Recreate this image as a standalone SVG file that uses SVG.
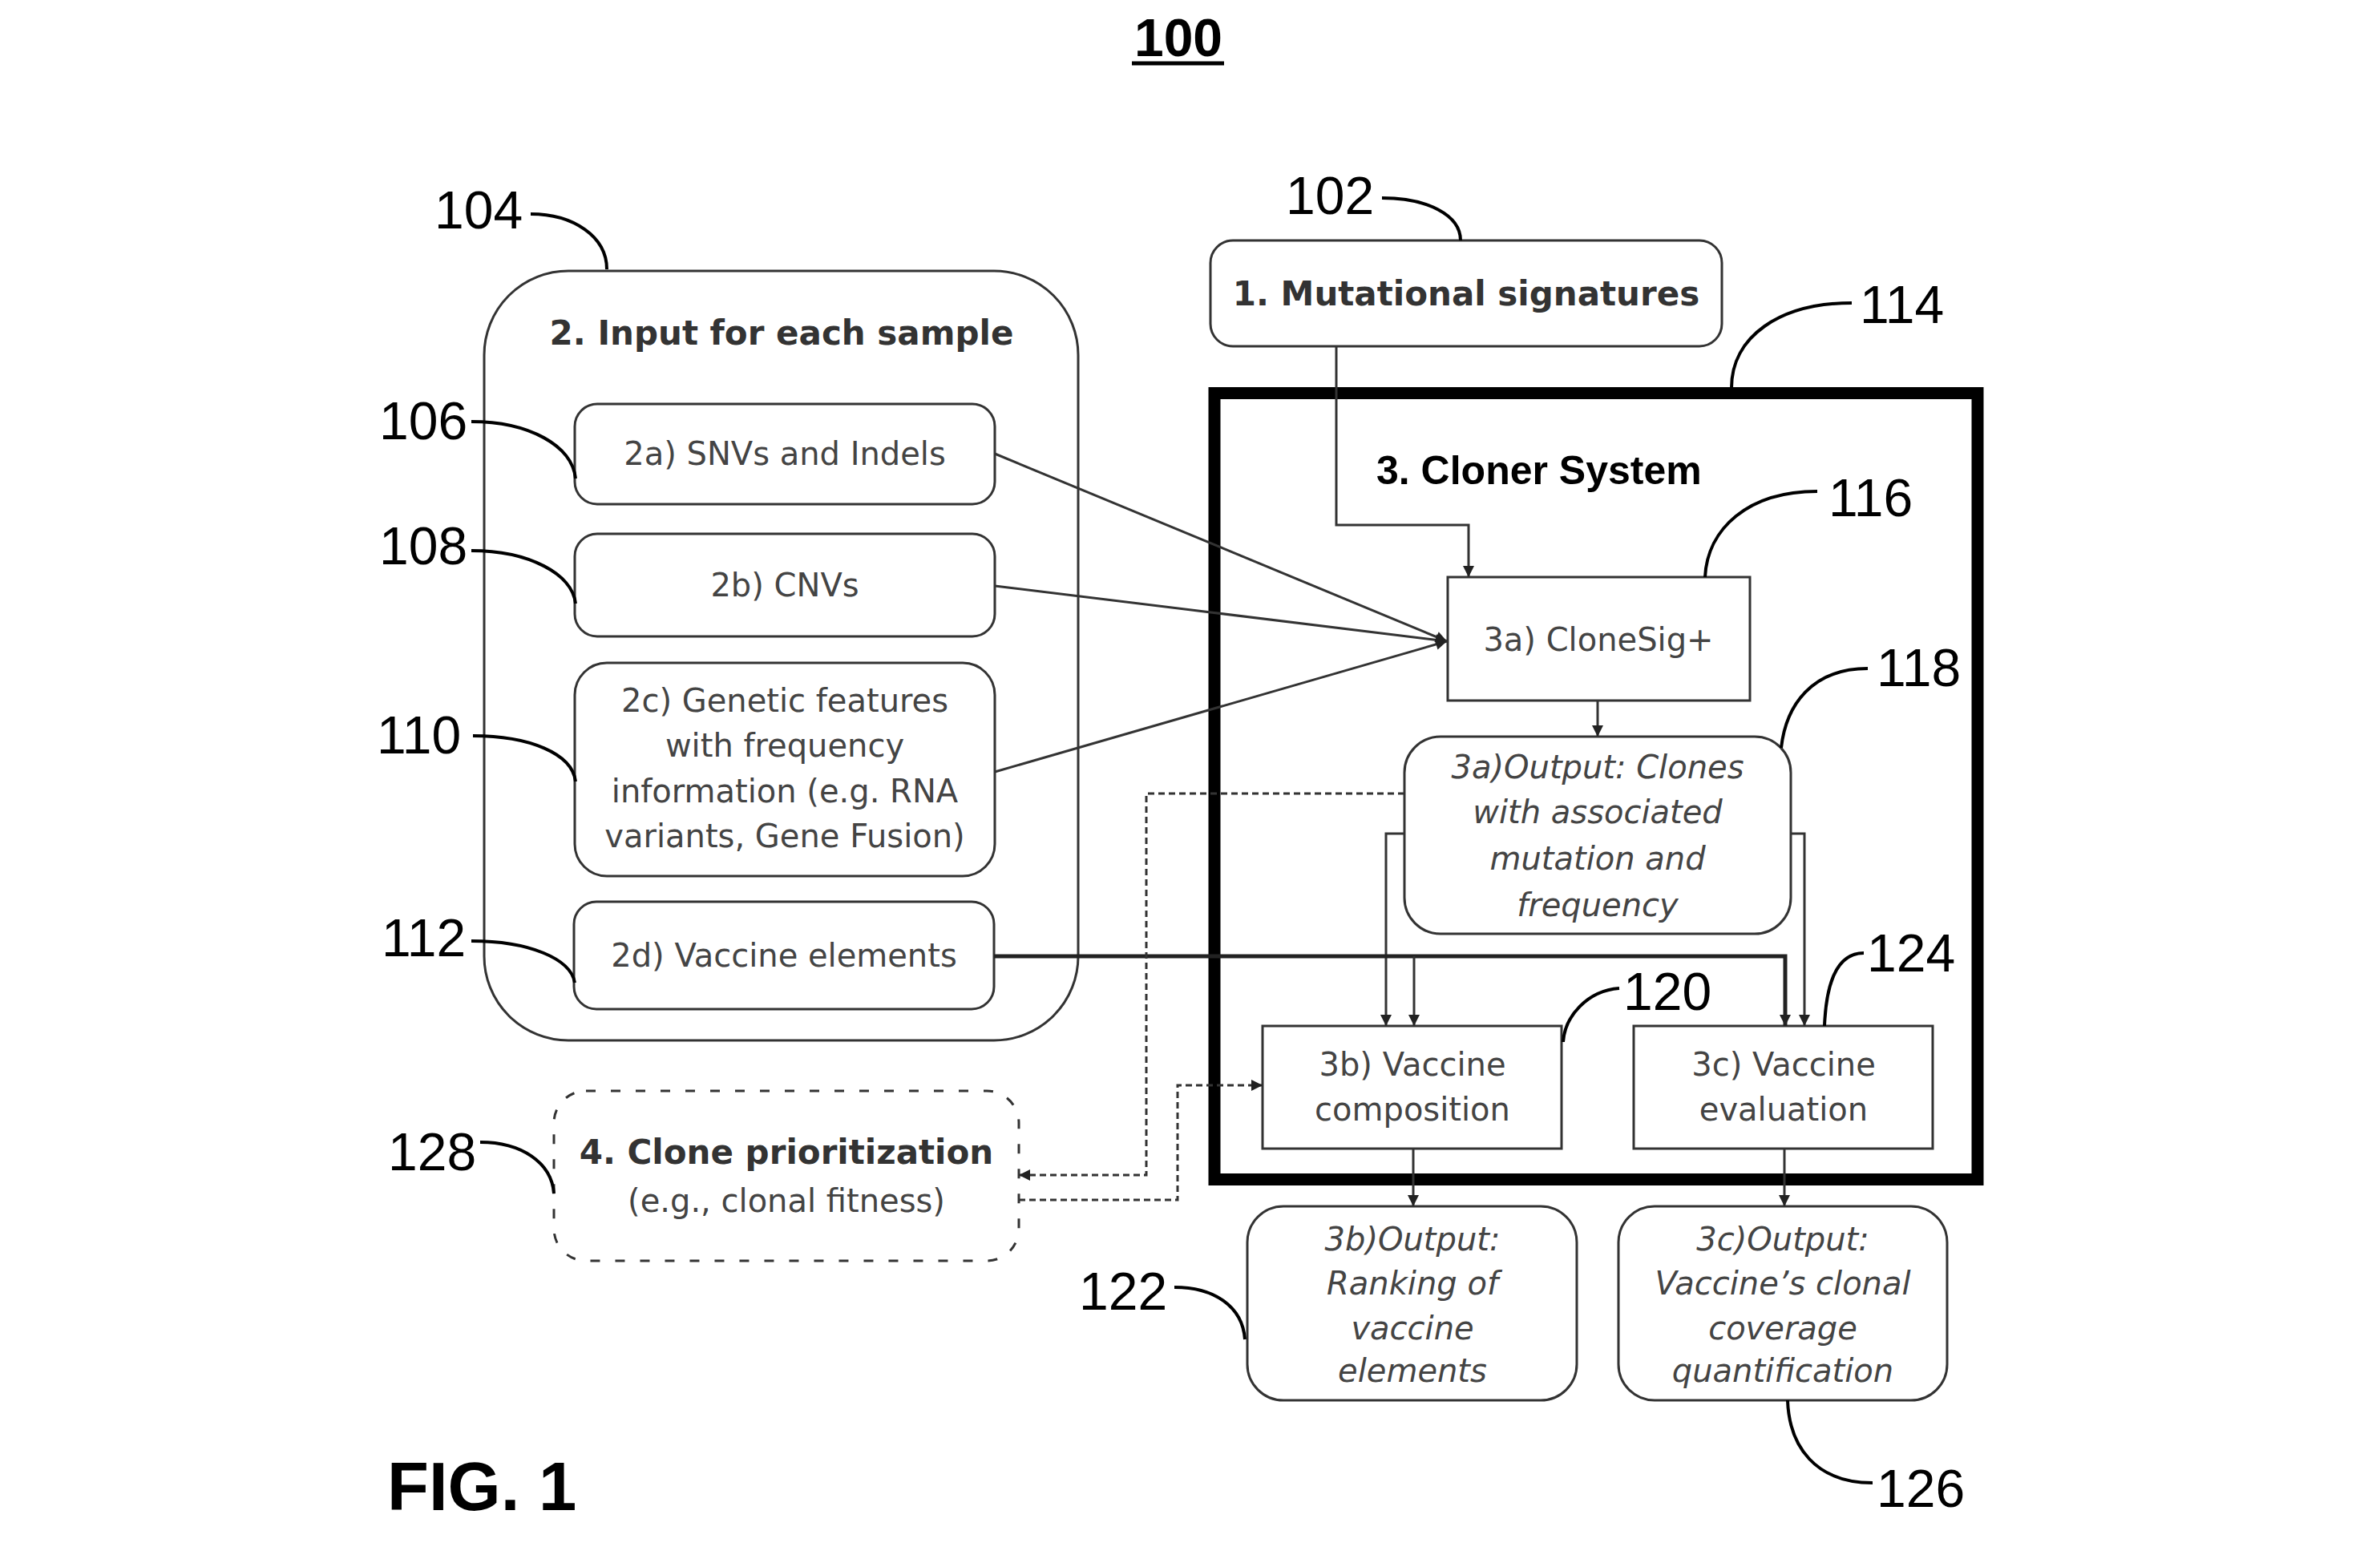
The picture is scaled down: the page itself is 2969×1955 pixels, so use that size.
<svg xmlns="http://www.w3.org/2000/svg" width="2969" height="1955" viewBox="0 0 2969 1955">
<style>
.bg{fill:#fff}
.box{fill:#fff;stroke:#333;stroke-width:3}
.dbox{fill:#fff;stroke:#333;stroke-width:3;stroke-dasharray:12 19}
.thick{fill:none;stroke:#000;stroke-width:15}
.t{font-family:"DejaVu Sans",sans-serif;font-size:40px;fill:#444;text-anchor:middle}
.ti{font-family:"DejaVu Sans",sans-serif;font-size:40px;fill:#444;text-anchor:middle;font-style:italic}
.tb{font-family:"DejaVu Sans",sans-serif;font-size:42px;font-weight:bold;fill:#333;text-anchor:middle}
.num{font-family:"Liberation Sans",Arial,sans-serif;font-size:66px;fill:#000}
.lead{fill:none;stroke:#000;stroke-width:4}
.c{fill:none;stroke:#333;stroke-width:3}
.c2{fill:none;stroke:#222;stroke-width:5}
.cd{fill:none;stroke:#333;stroke-width:3;stroke-dasharray:8 5}
</style>
<defs>
<marker id="ah" viewBox="0 0 10 10" refX="10" refY="5" markerWidth="16" markerHeight="14" markerUnits="userSpaceOnUse" orient="auto">
<path d="M0,0 L10,5 L0,10 z" fill="#222"/>
</marker>
</defs>
<rect class="bg" x="0" y="0" width="2969" height="1955"/>

<g id="title">
<text x="1470" y="70" font-family="Liberation Sans, Arial, sans-serif" font-size="66" font-weight="bold" text-anchor="middle" fill="#000">100</text>
<line x1="1412" y1="79" x2="1527" y2="79" stroke="#000" stroke-width="5"/>
</g>

<g id="node-input">
<rect class="box" x="604" y="338" width="741" height="960" rx="105"/>
<text class="tb" x="975" y="430">2. Input for each sample</text>
</g>
<g id="node-2a">
<rect class="box" x="717" y="504" width="524" height="125" rx="28"/>
<text class="t" x="979" y="580">2a) SNVs and Indels</text>
</g>
<g id="node-2b">
<rect class="box" x="717" y="666" width="524" height="128" rx="28"/>
<text class="t" x="979" y="744">2b) CNVs</text>
</g>
<g id="node-2c">
<rect class="box" x="717" y="827" width="524" height="266" rx="40"/>
<text class="t" x="979" y="888">2c) Genetic features</text>
<text class="t" x="979" y="944">with frequency</text>
<text class="t" x="979" y="1001">information (e.g. RNA</text>
<text class="t" x="979" y="1057">variants, Gene Fusion)</text>
</g>
<g id="node-2d">
<rect class="box" x="716" y="1125" width="524" height="134" rx="28"/>
<text class="t" x="978" y="1206">2d) Vaccine elements</text>
</g>
<g id="node-1">
<rect class="box" x="1510" y="300" width="638" height="132" rx="28"/>
<text class="tb" x="1829" y="381">1. Mutational signatures</text>
</g>
<g id="node-3">
<rect class="thick" x="1515" y="490.5" width="952" height="981"/>
<text x="1717" y="604" font-family="Liberation Sans, Arial, sans-serif" font-size="50" font-weight="bold" fill="#000">3. Cloner System</text>
</g>
<g id="node-3a">
<rect class="box" x="1806" y="720" width="377" height="154"/>
<text class="t" x="1994" y="812">3a) CloneSig+</text>
</g>
<g id="node-3a-out">
<rect class="box" x="1752" y="919" width="482" height="246" rx="45"/>
<text class="ti" x="1993" y="971">3a)Output: Clones</text>
<text class="ti" x="1993" y="1027">with associated</text>
<text class="ti" x="1993" y="1085">mutation and</text>
<text class="ti" x="1993" y="1143">frequency</text>
</g>
<g id="node-3b">
<rect class="box" x="1575" y="1280" width="373" height="153"/>
<text class="t" x="1762" y="1342">3b) Vaccine</text>
<text class="t" x="1762" y="1398">composition</text>
</g>
<g id="node-3c">
<rect class="box" x="2038" y="1280" width="373" height="153"/>
<text class="t" x="2225" y="1342">3c) Vaccine</text>
<text class="t" x="2225" y="1398">evaluation</text>
</g>
<g id="node-3b-out">
<rect class="box" x="1556" y="1505" width="411" height="242" rx="45"/>
<text class="ti" x="1762" y="1560">3b)Output:</text>
<text class="ti" x="1762" y="1615">Ranking of</text>
<text class="ti" x="1762" y="1671">vaccine</text>
<text class="ti" x="1762" y="1724">elements</text>
</g>
<g id="node-3c-out">
<rect class="box" x="2019" y="1505" width="410" height="242" rx="45"/>
<text class="ti" x="2224" y="1560">3c)Output:</text>
<text class="ti" x="2224" y="1615">Vaccine’s clonal</text>
<text class="ti" x="2224" y="1671">coverage</text>
<text class="ti" x="2224" y="1724">quantification</text>
</g>
<g id="node-4">
<rect class="dbox" x="691" y="1361" width="580" height="212" rx="40"/>
<text class="tb" x="981" y="1452">4. Clone prioritization</text>
<text class="t" x="981" y="1512">(e.g., clonal fitness)</text>
</g>

<g id="connectors">
<polyline class="c" points="1667,432 1667,655 1832,655 1832,720" marker-end="url(#ah)"/>
<line class="c" x1="1241" y1="566" x2="1805" y2="800" marker-end="url(#ah)"/>
<line class="c" x1="1241" y1="731" x2="1805" y2="800" marker-end="url(#ah)"/>
<line class="c" x1="1241" y1="963" x2="1805" y2="800" marker-end="url(#ah)"/>
<line class="c" x1="1993" y1="874" x2="1993" y2="919" marker-end="url(#ah)"/>
<polyline class="c" points="1752,1040 1729,1040 1729,1280" marker-end="url(#ah)"/>
<polyline class="c" points="2234,1040 2251,1040 2251,1280" marker-end="url(#ah)"/>
<polyline class="c2" points="1240,1193 2227,1193 2227,1280" marker-end="url(#ah)"/>
<line class="c" x1="1764" y1="1193" x2="1764" y2="1280" marker-end="url(#ah)"/>
<polyline class="cd" points="1752,990 1430,990 1430,1466 1271,1466" marker-end="url(#ah)"/>
<polyline class="cd" points="1271,1497 1469,1497 1469,1354 1575,1354" marker-end="url(#ah)"/>
<line class="c" x1="1763" y1="1433" x2="1763" y2="1505" marker-end="url(#ah)"/>
<line class="c" x1="2226" y1="1433" x2="2226" y2="1505" marker-end="url(#ah)"/>
</g>

<g id="labels">
<text class="num" x="542" y="285">104</text>
<path class="lead" d="M662,267 C715,267 757,295 757,336"/>
<text class="num" x="1604" y="267">102</text>
<path class="lead" d="M1724,247 C1780,247 1822,268 1822,300"/>
<text class="num" x="2320" y="403">114</text>
<path class="lead" d="M2310,378 C2220,378 2160,420 2160,484"/>
<text class="num" x="473" y="548">106</text>
<path class="lead" d="M588,526 C660,526 714,556 718,597"/>
<text class="num" x="473" y="704">108</text>
<path class="lead" d="M588,687 C660,687 714,716 718,753"/>
<text class="num" x="470" y="940">110</text>
<path class="lead" d="M590,918 C660,918 714,940 718,975"/>
<text class="num" x="476" y="1193">112</text>
<path class="lead" d="M588,1174 C660,1174 712,1196 717,1226"/>
<text class="num" x="2281" y="644">116</text>
<path class="lead" d="M2267,613 C2180,613 2130,660 2127,720"/>
<text class="num" x="2341" y="856">118</text>
<path class="lead" d="M2330,834 C2260,834 2228,880 2222,933"/>
<text class="num" x="2025" y="1260">120</text>
<path class="lead" d="M2020,1233 C1980,1236 1952,1268 1950,1300"/>
<text class="num" x="2329" y="1212">124</text>
<path class="lead" d="M2325,1189 C2290,1189 2278,1230 2276,1280"/>
<text class="num" x="484" y="1460">128</text>
<path class="lead" d="M599,1425 C650,1425 688,1450 691,1489"/>
<text class="num" x="1346" y="1634">122</text>
<path class="lead" d="M1465,1606 C1515,1606 1550,1630 1553,1671"/>
<text class="num" x="2341" y="1880">126</text>
<path class="lead" d="M2230,1747 C2232,1805 2265,1850 2336,1850"/>
</g>

<g id="fig">
<text x="483" y="1884" font-family="Liberation Sans, Arial, sans-serif" font-size="85" font-weight="bold" fill="#000">FIG. 1</text>
</g>
</svg>
